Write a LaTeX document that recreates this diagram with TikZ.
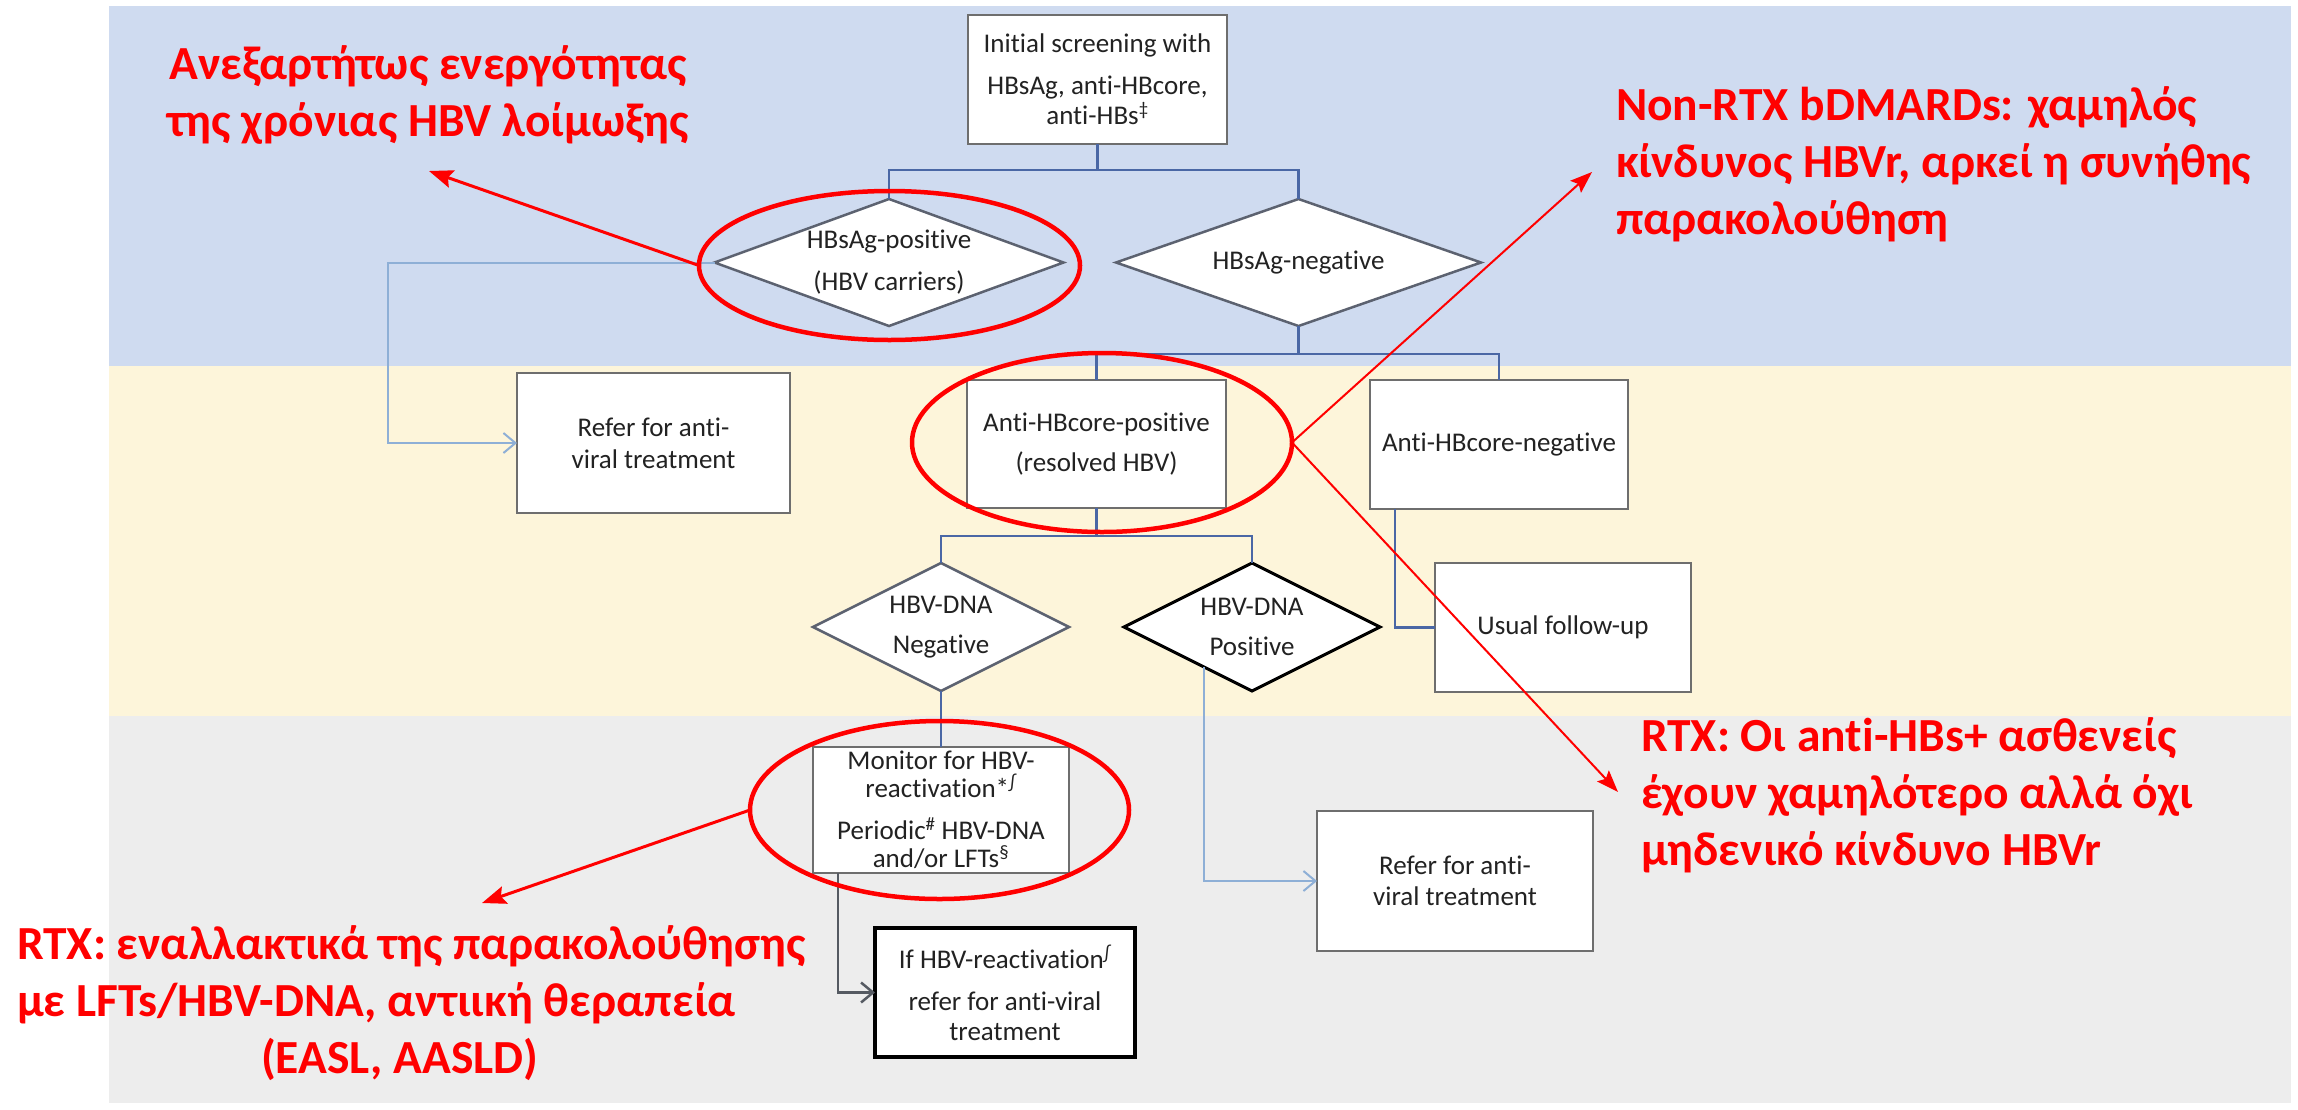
\documentclass[tikz,border=0pt]{standalone}
\usepackage{fontspec}
\setmainfont[Ligatures={NoCommon}]{Carlito}
\usetikzlibrary{arrows.meta,shapes.geometric,calc}
\definecolor{bandblue}{HTML}{CFDBF0}
\definecolor{bandyellow}{HTML}{FDF5DA}
\definecolor{bandgray}{HTML}{EDEDED}
\definecolor{linkblue}{HTML}{4A67A5}
\definecolor{lightlink}{HTML}{8EAFD6}
\definecolor{darklink}{HTML}{555A62}
\definecolor{boxgray}{HTML}{6E6E6E}
\definecolor{diagray}{HTML}{5C6270}
\definecolor{txt}{HTML}{222222}
\definecolor{annred}{HTML}{FF0000}
\begin{document}
\begin{tikzpicture}[x=1pt,y=-1pt,
  every node/.style={inner sep=0pt, outer sep=0pt},
  fbox/.style={draw=boxgray, line width=2.5pt, fill=white, text=txt, align=center, font=\fontsize{27}{30}\selectfont},
  dia/.style={diamond, draw=diagray, line width=2.5pt, fill=white},
  dlabel/.style={text=txt, align=center, font=\fontsize{27}{30}\selectfont},
  link/.style={draw=linkblue, line width=2.5pt},
  lightarrow/.style={draw=lightlink, line width=2pt, -{Straight Barb[length=12pt,width=20pt]}},
  darkarrow/.style={draw=darklink, line width=2.5pt, -{Straight Barb[length=12pt,width=20pt]}},
  ring/.style={ellipse, draw=annred, line width=4.5pt},
  callout/.style={draw=annred, line width=3pt, -{Stealth[length=24pt,width=18pt,inset=4pt]}},
  thincallout/.style={draw=annred, line width=2pt, -{Stealth[length=22pt,width=16pt,inset=4pt]}},
  note/.style={text=annred, font=\fontsize{47.5}{57}\selectfont\bfseries},
]
\useasboundingbox (0,0) rectangle (2298,1109);
\fill[white] (0,0) rectangle (2298,1109);
% bands
\fill[bandblue] (109,6) rectangle (2291,366);
\fill[bandyellow] (109,366) rectangle (2291,716);
\fill[bandgray] (109,716) rectangle (2291,1103);

% flowchart nodes
\node[fbox, minimum width=259pt, minimum height=129pt] (init) at (1097.5,79.5)
  {Initial screening with\\[12pt]HBsAg, anti-HBcore,\\anti-HBs\textsuperscript{‡}};
\node[dia, minimum width=349pt, minimum height=127pt,
  label={[dlabel]center:{HBsAg-positive\\[12pt](HBV carriers)}}] (pos) at (889,262.5) {};
\node[dia, minimum width=365pt, minimum height=127pt,
  label={[dlabel]center:{HBsAg-negative}}] (neg) at (1298.5,262.5) {};
\node[fbox, minimum width=273pt, minimum height=140pt] (refer1) at (653.5,443)
  {\rule{0pt}{14pt}Refer for anti-\\[2pt]viral treatment};
\node[fbox, minimum width=259pt, minimum height=128pt] (acp) at (1096.5,444)
  {Anti-HBcore-positive\\[10pt](resolved HBV)};
\node[fbox, minimum width=258pt, minimum height=129pt] (acn) at (1499,444.5)
  {Anti-HBcore-negative};
\node[dia, minimum width=256pt, minimum height=128pt,
  label={[dlabel]center:{HBV-DNA\\[10pt]Negative}}] (dneg) at (941,627) {};
\node[dia, draw=black, line width=3pt, minimum width=256pt, minimum height=128pt,
  label={[dlabel]center:{HBV-DNA\\[10pt]Positive}}] (dpos) at (1252,627) {};
\node[fbox, minimum width=256pt, minimum height=129pt] (usual) at (1563,627.5)
  {Usual follow-up};
\node[fbox, minimum width=256pt, minimum height=126pt] (monitor) at (941,810)
  {Monitor for HBV-\\[-2pt]reactivation*\textsuperscript{∫}\\[12pt]Periodic\textsuperscript{\#} HBV-DNA\\[-2pt]and/or LFTs\textsuperscript{§}};
\node[fbox, draw=black, line width=3.5pt, minimum width=260pt, minimum height=129pt] (ifreact) at (1005,992.5)
  {If HBV-reactivation\textsuperscript{∫}\\[12pt]refer for anti-viral\\treatment};
\node[fbox, minimum width=276pt, minimum height=140pt] (refer2) at (1455,881)
  {\rule{0pt}{10pt}Refer for anti-\\[1pt]viral treatment};

% connectors
\coordinate (j1) at (1097.5,170);
\coordinate (j2) at (1298.5,354);
\coordinate (j3) at (1096.5,536);
\coordinate (c1) at (388,262.5);
\draw[link] (init.south) -- (j1);
\draw[link] (pos.north) |- (j1) -| (neg.north);
\draw[link] (neg.south) -- (j2);
\draw[link] (acp.north) |- (j2) -| (acn.north);
\draw[link] (acp.south) -- (j3);
\draw[link] (dneg.north) |- (j3) -| (dpos.north);
\draw[link] ([xshift=25pt]acn.south west) |- (usual.west);
\draw[link] (dneg.south) -- (monitor.north);
\draw[darkarrow] ([xshift=25pt]monitor.south west) |- (ifreact.west);
\draw[lightarrow] (pos.west) -- (c1) |- (refer1.west);
\draw[lightarrow] ($(dpos.south)!0.375!(dpos.west)$) |- (refer2.west);

% annotations
\node[ring, minimum width=381pt, minimum height=149pt] (ellA) at (889.5,265.5) {};
\node[ring, minimum width=380pt, minimum height=179pt] (ellB) at (1102,442.5) {};
\node[ring, minimum width=379pt, minimum height=178pt] (ellC) at (939.5,810) {};

\node[note, align=center] (t1) at (428,95)
  {Ανεξαρτήτως ενεργότητας\\της χρόνιας HBV λοίμωξης};
\node[note, align=left, anchor=west] (t2) at (1616,164.5)
  {Non-RTX bDMARDs: χαμηλός\\κίνδυνος HBVr, αρκεί η συνήθης\\παρακολούθηση};
\node[note, align=left, anchor=west] (t3) at (1641,795)
  {RTX: Οι anti-HBs+ ασθενείς\\έχουν χαμηλότερο αλλά όχι\\μηδενικό κίνδυνο HBVr};
\node[note, align=left, anchor=west] (t4) at (17,1003)
  {RTX: εναλλακτικά της παρακολούθησης\\με LFTs/HBV-DNA, αντιική θεραπεία\\\hspace*{244pt}(EASL, AASLD)};

\coordinate (tipA) at (429,171);
\coordinate (tipB1) at (1592,172);
\coordinate (tipB2) at (1618,792);
\coordinate (tipC) at (482,903);
\draw[callout] (ellA.west) -- (tipA);
\draw[thincallout] (ellB.east) -- (tipB1);
\draw[thincallout] (ellB.east) -- (tipB2);
\draw[callout] (ellC.west) -- (tipC);
\end{tikzpicture}
\end{document}
